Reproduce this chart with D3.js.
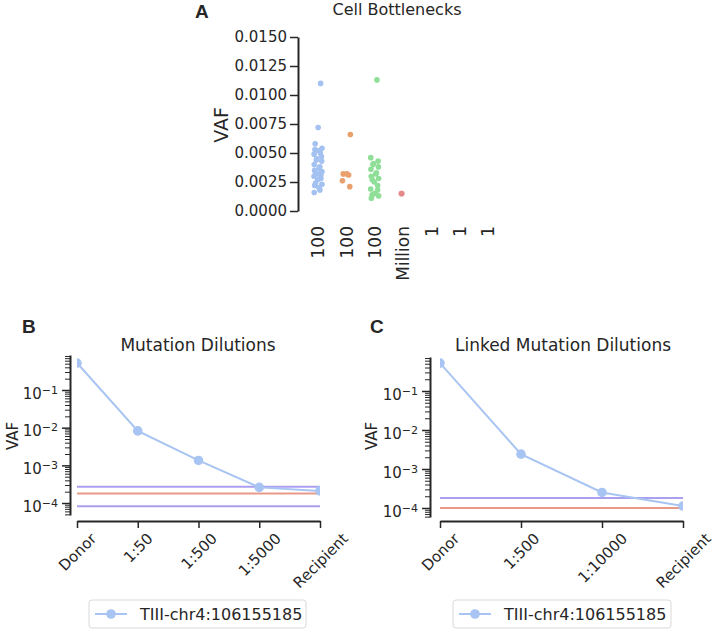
<!DOCTYPE html>
<html>
<head>
<meta charset="utf-8">
<script src="https://cdn.jsdelivr.net/npm/d3@7"></script>
<style>
  body { margin: 0; background: #fff; }
  svg { display: block; }
  text { font-family: "DejaVu Sans", sans-serif; fill: #262626; }
</style>
</head>
<body>
<svg id="chart" width="714" height="631"></svg>
<script>
// ---------------- DATA ----------------
// Panel A: Cell Bottlenecks (strip plot)
const catLabelsA = ["100", "100", "100", "Million", "1", "1", "1"];
const blueVAF = [0.0110, 0.0072, 0.0058, 0.0054, 0.0053, 0.0052, 0.0050, 0.0049, 0.0047, 0.0045,
                 0.0044, 0.0043, 0.0040, 0.0038, 0.0037, 0.0035, 0.0034, 0.0033, 0.0032, 0.0031,
                 0.0030, 0.0028, 0.0027, 0.0024, 0.0023, 0.0022, 0.0020, 0.0018, 0.0016];
const orangeVAF = [0.0066, 0.0032, 0.0032, 0.0031, 0.0026, 0.0021];
const greenVAF = [0.0113, 0.0046, 0.0043, 0.0041, 0.0040, 0.0038, 0.0036, 0.0033, 0.0032, 0.0030,
                  0.0028, 0.0027, 0.0025, 0.0022, 0.0019, 0.0018, 0.0015, 0.0014, 0.0013, 0.0011];
const redVAF = [0.0015, 0.0015];
const ticksA = [0, 0.0025, 0.005, 0.0075, 0.01, 0.0125, 0.015];

// Panel B: Mutation Dilutions
const catsB = ["Donor", "1:50", "1:500", "1:5000", "Recipient"];
const seriesB = [0.52, 0.0082, 0.00135, 0.00026, 0.00021];
const hlinesB = [{v: 0.00027, c: "purple"}, {v: 0.00018, c: "red"}, {v: 0.000082, c: "purple"}];

// Panel C: Linked Mutation Dilutions
const catsC = ["Donor", "1:500", "1:10000", "Recipient"];
const seriesC = [0.52, 0.0024, 0.00025, 0.000112];
const hlinesC = [{v: 0.00018, c: "purple"}, {v: 0.0001, c: "red"}];

const legendLabel = "TIII-chr4:106155185";
const majorLog = [1e-1, 1e-2, 1e-3, 1e-4];
const expLabels = ["\u22121", "\u22122", "\u22123", "\u22124"];

// ---------------- STYLE ----------------
const COL = {blue: "#a3c1f1", orange: "#e9a06d", green: "#8fdf98", red: "#e48a89",
             purple: "#ab9ff0", redLine: "#e8998a", line: "#a8c4f2", axis: "#262626"};

const svg = d3.select("#chart");

function styleAxis(g) {
  g.selectAll(".domain").attr("stroke", COL.axis).attr("stroke-width", 2);
  g.selectAll(".tick line").attr("stroke", COL.axis).attr("stroke-width", 1.5);
}

// ================= PANEL A =================
(function() {
  const x = d3.scalePoint().domain(d3.range(catLabelsA.length)).range([318, 488]);
  const y = d3.scaleLinear().domain([0, 0.015]).range([211, 37]);

  const gy = svg.append("g").attr("transform", "translate(298,0)")
    .call(d3.axisLeft(y).tickValues(ticksA).tickFormat(d3.format(".4f")).tickSize(8).tickSizeOuter(0).tickPadding(3));
  styleAxis(gy);
  gy.selectAll("text").style("font-size", "15px").style("font-family", "DejaVu Sans").attr("fill", COL.axis);

  const gx = svg.append("g").attr("transform", "translate(0,226)")
    .call(d3.axisBottom(x).tickFormat(i => catLabelsA[i]).tickSize(0).tickPadding(0));
  gx.select(".domain").remove();
  gx.selectAll("text")
    .style("font-size", "17px").style("font-family", "DejaVu Sans").attr("fill", COL.axis)
    .attr("text-anchor", "end").attr("dy", "0.35em").attr("y", 0)
    .attr("transform", "rotate(-90)");
  // rotate(-90) swaps: place x via transform
  gx.selectAll(".tick text").attr("x", 0).attr("transform", "rotate(-90)");

  const groups = [
    {vals: blueVAF, c: COL.blue, i: 0},
    {vals: orangeVAF, c: COL.orange, i: 1},
    {vals: greenVAF, c: COL.green, i: 2},
    {vals: redVAF, c: COL.red, i: 3}
  ];
  const jit = k => 4 * Math.sin(k * 2.399 + 0.7);
  groups.forEach(gr => {
    svg.append("g").selectAll("circle").data(gr.vals).join("circle")
      .attr("cx", (d, k) => x(gr.i) + jit(k + gr.i * 3))
      .attr("cy", d => y(d))
      .attr("r", 2.8)
      .attr("fill", gr.c);
  });

  svg.append("text").attr("x", 397).attr("y", 15).attr("text-anchor", "middle")
    .style("font-size", "16px").text("Cell Bottlenecks");
  svg.append("text").attr("transform", "translate(228,125) rotate(-90)").attr("text-anchor", "middle")
    .style("font-size", "19px").text("VAF");
  svg.append("text").attr("x", 195).attr("y", 18)
    .style("font-family", "Liberation Sans, Arial, sans-serif").style("font-weight", "bold")
    .style("font-size", "19px").attr("fill", "#000").text("A");
})();

// ================= PANELS B & C =================
function dilutionPanel(opt) {
  const x = d3.scalePoint().domain(opt.cats).range(opt.xr);
  const y = d3.scaleLog().domain(opt.yd).range(opt.yr);

  // minor ticks
  const minors = [];
  for (let e = -5; e <= 0; e++) for (let m = 2; m <= 9; m++) {
    const v = m * Math.pow(10, e);
    if (v >= opt.yd[0] && v <= opt.yd[1]) minors.push(v);
  }
  const gmin = svg.append("g").attr("transform", `translate(${opt.spineX},0)`)
    .call(d3.axisLeft(y).tickValues(minors).tickFormat("").tickSize(5).tickSizeOuter(0));
  gmin.select(".domain").remove();
  gmin.selectAll(".tick line").attr("stroke", COL.axis).attr("stroke-width", 1);

  const gy = svg.append("g").attr("transform", `translate(${opt.spineX},0)`)
    .call(d3.axisLeft(y).tickValues(majorLog).tickFormat(() => "10").tickSize(8).tickSizeOuter(0).tickPadding(4));
  styleAxis(gy);
  gy.selectAll(".tick text").style("font-size", "15px").attr("fill", COL.axis)
    .each(function(d, i) {
      const t = d3.select(this);
      t.text("10");
      t.append("tspan").attr("dy", "-0.45em").style("font-size", "11px").text(expLabels[i]);
    })
    .attr("dy", "0.55em");

  const gx = svg.append("g").attr("transform", `translate(0,${opt.spineY})`)
    .call(d3.axisBottom(x).tickSize(7).tickSizeOuter(0).tickPadding(0));
  styleAxis(gx);
  gx.selectAll(".tick text").style("font-size", "15px").attr("fill", COL.axis)
    .each(function() {
      const t = d3.select(this);
      const L = this.getComputedTextLength();
      const h = 11;
      const off = 11 + (L + h) / (2 * Math.SQRT2);
      t.attr("y", 0).attr("dy", "0.35em").attr("text-anchor", "middle")
        .attr("transform", `translate(0,${off}) rotate(-45)`);
    });

  // clip
  const cid = "clip" + opt.id;
  svg.append("clipPath").attr("id", cid).append("rect")
    .attr("x", opt.xr[0]).attr("y", opt.yr[1]).attr("width", opt.xr[1] - opt.xr[0]).attr("height", opt.yr[0] - opt.yr[1]);
  const plot = svg.append("g").attr("clip-path", `url(#${cid})`);

  plot.selectAll("line.h").data(opt.hlines).join("line")
    .attr("x1", opt.xr[0]).attr("x2", opt.xr[1])
    .attr("y1", d => y(d.v)).attr("y2", d => y(d.v))
    .attr("stroke", d => d.c === "red" ? COL.redLine : COL.purple).attr("stroke-width", 2);

  const line = d3.line().x((d, i) => x(opt.cats[i])).y(d => y(d));
  plot.append("path").datum(opt.series).attr("d", line)
    .attr("fill", "none").attr("stroke", COL.line).attr("stroke-width", 2);
  plot.selectAll("circle").data(opt.series).join("circle")
    .attr("cx", (d, i) => x(opt.cats[i])).attr("cy", d => y(d)).attr("r", 4.8).attr("fill", COL.line);

  svg.append("text").attr("x", opt.titleX).attr("y", 351).attr("text-anchor", "middle")
    .style("font-size", "17px").text(opt.title);
  svg.append("text").attr("transform", `translate(${opt.vafX},436) rotate(-90)`).attr("text-anchor", "middle")
    .style("font-size", "15px").text("VAF");
  svg.append("text").attr("x", opt.letterX).attr("y", 333)
    .style("font-family", "Liberation Sans, Arial, sans-serif").style("font-weight", "bold")
    .style("font-size", "19px").attr("fill", "#000").text(opt.letter);

  // legend
  const lg = svg.append("g").attr("transform", `translate(${opt.legX},600)`);
  lg.append("rect").attr("x", 0).attr("y", 0).attr("width", opt.legW).attr("height", 28).attr("rx", 3)
    .attr("fill", "#fff").attr("stroke", "#d9d9d9").attr("stroke-width", 1);
  lg.append("line").attr("x1", 6).attr("x2", 38).attr("y1", 14).attr("y2", 14)
    .attr("stroke", COL.line).attr("stroke-width", 2);
  lg.append("circle").attr("cx", 22).attr("cy", 14).attr("r", 4.8).attr("fill", COL.line);
  lg.append("text").attr("x", 51).attr("y", 14).attr("dy", "0.35em").style("font-size", "16px").text(legendLabel);
}

dilutionPanel({
  id: "B", cats: catsB, series: seriesB, hlines: hlinesB,
  xr: [77, 320], yd: [Math.pow(10, -4.318), Math.pow(10, -0.071)], yr: [515, 355],
  spineX: 70, spineY: 521, title: "Mutation Dilutions", titleX: 198, vafX: 18,
  letter: "B", letterX: 22, legX: 89, legW: 217
});
dilutionPanel({
  id: "C", cats: catsC, series: seriesC, hlines: hlinesC,
  xr: [440, 683], yd: [Math.pow(10, -4.231), Math.pow(10, -0.128)], yr: [517, 357],
  spineX: 430, spineY: 521, title: "Linked Mutation Dilutions", titleX: 563, vafX: 377,
  letter: "C", letterX: 370, legX: 453, legW: 218
});
</script>
</body>
</html>
